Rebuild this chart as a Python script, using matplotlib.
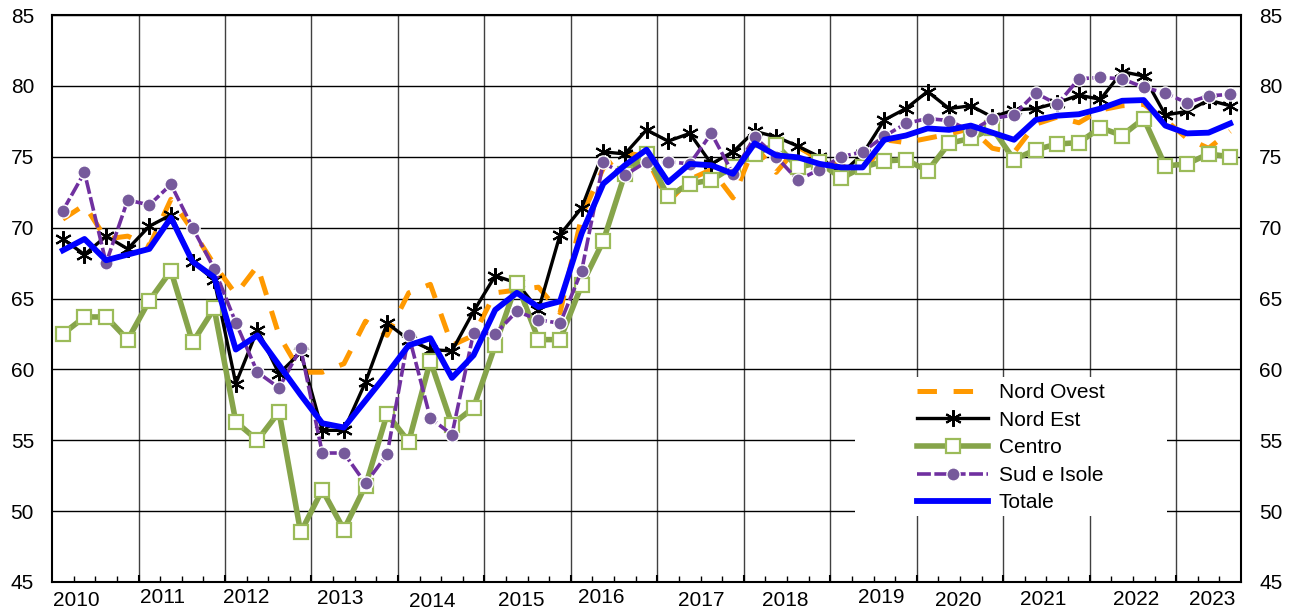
import matplotlib
matplotlib.use("Agg")
import matplotlib.pyplot as plt
from matplotlib.patches import Rectangle

plt.rcParams['font.family'] = ['Liberation Sans', 'DejaVu Sans']
plt.rcParams['lines.scale_dashes'] = False

# Dati trimestrali 2010 T1 - 2023 T3
anni = list(range(2010, 2024))
periodi = [f"{a}-T{q}" for a in anni for q in range(1, 5)][:55]

nord_ovest = [70.6, 71.6, 69.2, 69.4, 68.7, 72.0, 69.8, 67.4,
              65.3, 67.3, 62.4, 59.8, 59.8, 60.4, 63.4, 62.4,
              65.4, 66.0, 61.7, 62.4, 65.4, 65.6, 65.8, 64.0,
              70.8, 74.2, 75.3, 75.0, 71.8, 73.4, 74.1, 72.1,
              75.8, 73.9, 75.7, 74.8, 74.4, 73.7, 76.2, 76.0,
              76.3, 76.6, 77.0, 75.6, 75.3, 77.3, 77.8, 77.4,
              78.3, 78.6, 78.7, 77.6, 76.3, 75.6, 76.8]

nord_est = [69.2, 68.1, 69.4, 68.5, 70.1, 70.9, 67.6, 66.3,
            59.0, 62.8, 59.7, 61.2, 55.7, 55.7, 59.1, 63.25,
            62.1, 61.4, 61.3, 64.1, 66.6, 66.1, 64.2, 69.5,
            71.4, 75.35, 75.2, 76.9, 76.1, 76.65, 74.5, 75.35,
            76.8, 76.4, 75.75, 75.0, 73.8, 75.2, 77.6, 78.4,
            79.6, 78.4, 78.6, 77.8, 78.3, 78.4, 78.8, 79.35,
            79.05, 81.0, 80.7, 77.95, 78.2, 79.0, 78.6]

centro = [62.5, 63.7, 63.7, 62.1, 64.85, 66.96, 61.9, 64.3,
          56.3, 55.0, 57.0, 48.5, 51.5, 48.7, 51.8, 56.85,
          54.9, 60.6, 56.1, 57.3, 61.7, 66.1, 62.1, 62.1,
          65.95, 69.06, 73.8, 75.2, 72.2, 73.1, 73.35, 74.3,
          75.2, 75.85, 74.25, 74.6, 73.5, 74.25, 74.7, 74.8,
          74.0, 75.95, 76.3, 77.0, 74.8, 75.5, 75.9, 76.0,
          77.05, 76.5, 77.7, 74.35, 74.5, 75.2, 75.0]

sud_isole = [71.2, 73.9, 67.5, 71.95, 71.6, 73.05, 70.0, 67.1,
             63.3, 59.8, 58.7, 61.5, 54.1, 54.1, 51.95, 54.0,
             62.4, 56.55, 55.4, 62.6, 62.5, 64.1, 63.5, 63.25,
             66.96, 74.6, 73.7, 74.65, 74.65, 74.5, 76.65, 73.8,
             76.4, 75.0, 73.35, 74.1, 75.0, 75.35, 76.45, 77.35,
             77.7, 77.55, 76.8, 77.7, 77.95, 79.5, 78.7, 80.5,
             80.6, 80.5, 79.9, 79.5, 78.8, 79.3, 79.4]

totale = [68.4, 69.2, 67.7, 68.1, 68.5, 70.7, 67.6, 66.5,
          61.4, 62.4, 60.3, 58.2, 56.2, 55.9, 57.8, 59.7,
          61.7, 62.2, 59.4, 61.0, 64.2, 65.4, 64.4, 64.8,
          69.6, 73.1, 74.4, 75.5, 73.2, 74.5, 74.4, 73.8,
          75.95, 75.1, 74.96, 74.5, 74.25, 74.25, 76.2, 76.5,
          77.0, 76.9, 77.2, 76.7, 76.2, 77.6, 77.9, 78.0,
          78.4, 78.95, 79.0, 77.2, 76.65, 76.7, 77.35]

x = list(range(len(periodi)))

fig = plt.figure(figsize=(12.95, 6.16), dpi=100)
ax = fig.add_axes([0.0402, 0.0552, 0.9181, 0.9204])

ax.plot(x, nord_ovest, color='#FF9900', lw=3.6, dashes=(14, 12),
        label='Nord Ovest', zorder=3)
ax.plot(x, nord_est, color='black', lw=2.4, marker=(6, 2, 0), ms=12,
        mew=1.5, mec='black', label='Nord Est', zorder=4)
ax.plot(x, centro, color='#86A44A', lw=4, marker='s', ms=10.5,
        mfc='white', mec='#9BBB59', mew=1.6, label='Centro', zorder=5)
ax.plot(x, sud_isole, color='#7030A0', lw=2.6, dashes=(10, 2.5),
        marker='o', ms=9.5, mfc='#765A9B', mec='white', mew=1,
        label='Sud e Isole', zorder=6)
ax.plot(x, totale, color='#0000FF', lw=4.2, label='Totale', zorder=7)

ax.set_xlim(-0.5, len(periodi) - 0.5)
ax.set_ylim(45, 85)
ax.set_yticks(range(45, 90, 5))

# griglia: orizzontale nera, verticale ai cambi d'anno
ax.set_axisbelow(True)
ax.yaxis.grid(True, color='black', lw=1)
confini = [4 * k - 0.5 for k in range(1, 14)]
for c in confini:
    ax.axvline(c, color='#404040', lw=1, zorder=0.5)

for s in ax.spines.values():
    s.set_linewidth(1.5)
    s.set_color('black')

ax.set_xticks(confini)
ax.set_xticks([k - 0.5 for k in range(1, len(periodi))], minor=True)
ax.tick_params(axis='x', which='both', direction='in', labelbottom=False)
ax.tick_params(axis='x', which='major', length=5, width=1.5)
ax.tick_params(axis='x', which='minor', length=4, width=1)
ax.tick_params(axis='y', length=0, pad=13, labelsize=15,
               labelleft=True, labelright=True)

# etichette degli anni (posizione irregolare come nell'originale)
sposta_x = [1.11, 1.09, 0.97, 1.32, 1.57, 1.69, 1.39, 2.03, 1.9, 2.36,
            1.9, 1.85, 2.13, 1.67]
sposta_y = [19, 16, 16, 17, 20, 19, 16, 19, 19, 16, 19, 18, 18, 18]
for i, a in enumerate(anni):
    ax.annotate(str(a), xy=(4 * i - 0.5 + sposta_x[i], 0),
                xycoords=('data', 'axes fraction'),
                xytext=(0, -sposta_y[i]), textcoords='offset pixels',
                ha='center', va='center', fontsize=15, annotation_clip=False)

# riquadro bianco della legenda
ax.add_patch(Rectangle((0.675, 0.116), 0.263, 0.245, transform=ax.transAxes,
                       facecolor='white', edgecolor='none', zorder=1))
ax.legend(loc='upper left', bbox_to_anchor=(0.719, 0.369), frameon=False,
          fontsize=15, borderpad=0, labelspacing=0.41, handlelength=3.4,
          handletextpad=0.5, numpoints=1)

fig.savefig('out.png', dpi=100)
